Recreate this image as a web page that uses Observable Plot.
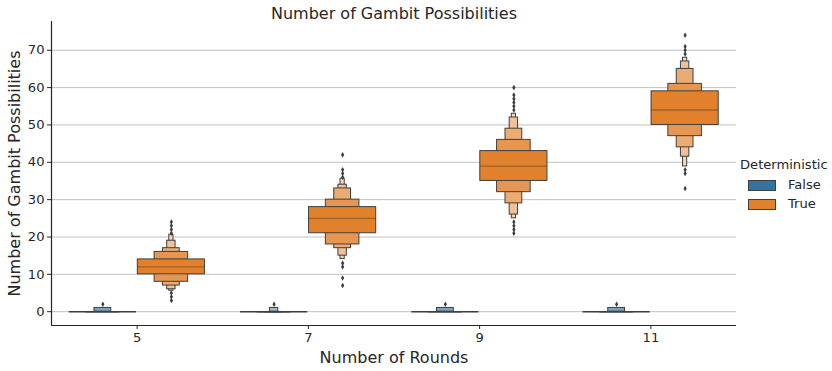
<!DOCTYPE html>
<html>
<head>
<meta charset="utf-8">
<script src="https://cdn.jsdelivr.net/npm/d3@7"></script>
<script src="https://cdn.jsdelivr.net/npm/@observablehq/plot@0.6"></script>
<style>
  body { margin: 0; background: #fff; font-family: "DejaVu Sans", sans-serif; }
  #fig { position: relative; width: 832px; height: 371px; }
  #legend { position: absolute; left: 0; top: 0; width: 832px; height: 371px; pointer-events: none; color: #262626; font-size: 13.1px; }
  #legend .t { position: absolute; left: 740px; top: 157px; white-space: nowrap; }
  #legend .sw { position: absolute; left: 748px; width: 26px; height: 9px; border: 1px solid #3f3f3f; }
  #legend .lb { position: absolute; left: 788px; white-space: nowrap; }
</style>
</head>
<body>
<div id="fig"></div>
<script>
// Rounds played (x categories) and the Deterministic hue groups
const rounds = ["5", "7", "9", "11"];
const hues = ["False", "True"];
const hueColors = ["#3274a1", "#e1812c"];

// Letter values for the True group, innermost level (quartiles) first
const trueMedian = [12, 25, 39, 54];
const trueLower = [
  [10, 8, 7, 6, 5.6],
  [21, 18, 17, 15, 14.1],
  [35, 32, 29, 26, 25],
  [50, 47, 44, 41.5, 38.9]
];
const trueUpper = [
  [14, 16, 17, 19, 20.6],
  [28, 30, 33, 34, 35.6],
  [43, 46, 49, 52, 53],
  [59, 61, 65, 67, 68]
];
const trueOutliers = [
  [21, 22, 23, 24, 3, 4, 5],
  [36, 37, 38, 42, 13, 12, 9, 7],
  [54, 55, 56, 57, 58, 60, 21, 22, 23, 24],
  [69, 70, 71, 74, 38, 37, 33]
];

// Letter values for the False group
const falseMedian = [0, 0, 0, 0];
const falseLower = [
  [0, 0, 0],
  [0, 0, 0, 0],
  [0, 0, 0],
  [0, 0, 0]
];
const falseUpper = [
  [0, 0, 1],
  [0, 0, 0, 1],
  [0, 0, 1],
  [0, 0, 1]
];
const falseOutliers = [[2], [2], [2], [2]];

const yTicks = [0, 10, 20, 30, 40, 50, 60, 70];

// Geometry of the dodged letter-value boxes (in category units)
const dodge = [-0.2, 0.2];
const fullHalf = 0.196;
const nLevels = 6;
const edge = "#3f3f3f";

function levelColor(base, k) {
  return d3.interpolateRgb(base, "#ffffff")(0.85 * k / (nLevels - 1));
}

const groups = [
  {hue: 0, med: falseMedian, lo: falseLower, hi: falseUpper, out: falseOutliers},
  {hue: 1, med: trueMedian, lo: trueLower, hi: trueUpper, out: trueOutliers}
];

const boxes = [], flat = [], medians = [], outliers = [];
for (const g of groups) {
  rounds.forEach((r, i) => {
    const cx = i + dodge[g.hue];
    const lo = g.lo[i], hi = g.hi[i];
    for (let k = lo.length - 1; k >= 0; k--) {
      const hw = fullHalf * Math.pow(0.5, k);
      const b = {x1: cx - hw, x2: cx + hw, y1: lo[k], y2: hi[k], fill: levelColor(hueColors[g.hue], k)};
      if (lo[k] === hi[k]) flat.push({x1: b.x1, x2: b.x2, y: lo[k]});
      else boxes.push(b);
    }
    if (g.hue === 1) medians.push({x1: cx - fullHalf, x2: cx + fullHalf, y: g.med[i]});
    for (const v of g.out[i]) outliers.push({x: cx, y: v});
  });
}

const chart = Plot.plot({
  width: 832,
  height: 371,
  marginLeft: 51,
  marginRight: 96,
  marginTop: 21,
  marginBottom: 46,
  style: {fontFamily: "DejaVu Sans, sans-serif", fontSize: "13.1px", color: "#262626", background: "#fff", overflow: "visible"},
  x: {domain: [-0.5, 3.5], axis: null},
  y: {domain: [-3.7, 77.7], axis: null},
  marks: [
    Plot.ruleY(yTicks, {x1: -0.5, x2: 3.5, stroke: "#c0c0c0", strokeWidth: 1}),
    Plot.rect(boxes, {x1: "x1", x2: "x2", y1: "y1", y2: "y2", fill: "fill", stroke: edge, strokeWidth: 1}),
    Plot.ruleY(flat, {x1: "x1", x2: "x2", y: "y", stroke: edge, strokeWidth: 1.5}),
    Plot.ruleY(medians, {x1: "x1", x2: "x2", y: "y", stroke: "#262626", strokeOpacity: 0.35, strokeWidth: 1.3}),
    Plot.dot(outliers, {x: "x", y: "y", symbol: "diamond", r: 1.7, fill: edge, stroke: "none"}),
    Plot.axisY({ticks: yTicks, tickSize: 4, tickPadding: 3, label: null, stroke: "#262626"}),
    Plot.axisX({ticks: [0, 1, 2, 3], tickFormat: i => rounds[i], tickSize: 4, tickPadding: 3, label: null, stroke: "#262626"}),
    Plot.ruleX([-0.5], {stroke: "#262626", strokeWidth: 1.2}),
    Plot.ruleY([-3.7], {stroke: "#262626", strokeWidth: 1.2}),
    Plot.text(["Number of Gambit Possibilities"], {text: d => d, frameAnchor: "left", dx: -37, rotate: -90, textAnchor: "middle", lineAnchor: "middle", fontSize: 16, fill: "#262626"}),
    Plot.text(["Number of Rounds"], {text: d => d, frameAnchor: "bottom", dy: 32, textAnchor: "middle", lineAnchor: "middle", fontSize: 16, fill: "#262626"}),
    Plot.text(["Number of Gambit Possibilities"], {text: d => d, frameAnchor: "top", dy: -8, textAnchor: "middle", lineAnchor: "middle", fontSize: 16, fill: "#262626"})
  ]
});

const fig = document.getElementById("fig");
fig.appendChild(chart);

// Legend for the Deterministic hue
const legend = document.createElement("div");
legend.id = "legend";
let html = '<div class="t">Deterministic</div>';
const rowTops = [180, 199];
hues.forEach((h, j) => {
  html += `<div class="sw" style="top:${rowTops[j]}px;background:${hueColors[j]}"></div>`;
  html += `<div class="lb" style="top:${rowTops[j] - 3}px">${h}</div>`;
});
legend.innerHTML = html;
fig.appendChild(legend);
</script>
</body>
</html>
